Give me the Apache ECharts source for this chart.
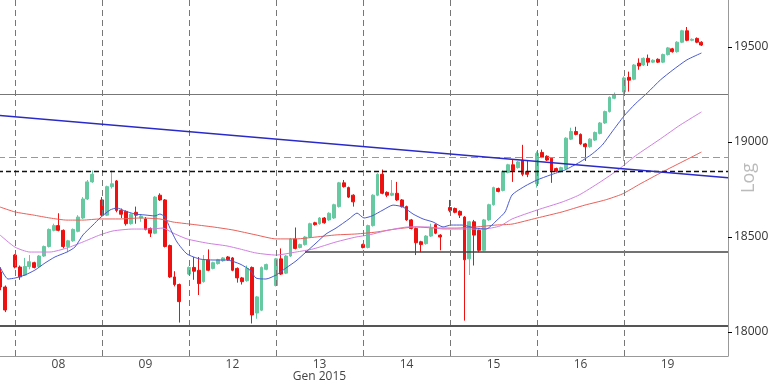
<!DOCTYPE html>
<html><head><meta charset="utf-8">
<script src="https://cdn.jsdelivr.net/npm/echarts@6/dist/echarts.min.js"></script>
<style>html,body{margin:0;padding:0;background:#fff}#c{width:768px;height:384px}</style>
</head><body><div id="c"></div>
<script>
// ---- data ----
const dayLabels = ['08','09','12','13','14','15','16','19'];
const monthLabel = 'Gen 2015';
const dayStartIdx = [3,21,39,57,75,93,111,129];
const dayLabelIdx = [12,30,48,66,84,102,120,138];
const yTickValues = [18000,18500,19000,19500];
// candles: [open, close, low, high]; '-' = no bar
const candles = [
 [18316,18237,18220,18340],[18237,18116,18105,18245],'-',
 [18405,18342,18335,18410],[18342,18290,18275,18350],[18300,18345,18295,18390],[18345,18370,18330,18405],[18365,18340,18335,18370],[18345,18400,18340,18405],[18400,18450,18395,18455],[18450,18540,18445,18545],[18535,18560,18530,18570],[18560,18535,18530,18625],[18535,18450,18440,18540],[18450,18480,18420,18485],[18480,18540,18475,18545],[18530,18605,18525,18615],[18600,18700,18595,18710],[18700,18790,18695,18800],[18790,18830,18785,18850],'-',
 [18695,18615,18610,18710],[18615,18765,18610,18770],[18765,18780,18755,18850],[18795,18640,18630,18800],[18640,18620,18600,18650],[18635,18570,18560,18640],[18570,18620,18565,18625],[18630,18615,18570,18660],[18600,18610,18580,18620],[18595,18540,18535,18605],[18545,18520,18500,18550],[18520,18710,18515,18715],[18720,18695,18690,18730],[18695,18450,18445,18700],[18455,18290,18285,18460],[18290,18250,18240,18320],[18250,18160,18050,18255],'-',
 [18305,18340,18300,18345],[18340,18320,18275,18395],[18325,18255,18195,18395],[18265,18380,18260,18405],[18380,18325,18320,18435],[18335,18365,18330,18370],[18360,18380,18355,18385],[18375,18390,18370,18395],[18395,18380,18375,18400],[18390,18325,18320,18395],[18335,18285,18260,18340],[18285,18265,18250,18290],[18270,18335,18265,18350],[18340,18090,18045,18345],[18100,18185,18070,18190],[18115,18340,18110,18345],[18330,18355,18325,18360],'-',
 [18245,18385,18240,18390],[18385,18305,18300,18440],[18310,18400,18305,18405],[18400,18490,18395,18495],[18490,18440,18435,18550],[18445,18460,18440,18465],[18460,18500,18455,18505],[18500,18570,18495,18575],[18575,18565,18560,18580],[18570,18600,18565,18605],[18600,18575,18570,18605],[18590,18625,18585,18630],[18600,18670,18595,18675],[18660,18785,18655,18790],[18785,18765,18760,18800],[18760,18710,18705,18765],[18720,18685,18660,18725],'-',
 [18460,18445,18440,18465],[18445,18560,18440,18565],[18560,18720,18555,18725],[18720,18830,18715,18835],[18830,18730,18725,18855],[18735,18720,18710,18740],[18720,18730,18715,18800],[18730,18695,18690,18790],[18695,18660,18655,18700],[18660,18590,18585,18665],[18590,18545,18540,18595],[18545,18470,18405,18550],[18475,18460,18420,18480],[18465,18505,18460,18510],[18505,18545,18500,18570],[18565,18520,18515,18570],[18510,18500,18430,18515],'-',
 [18655,18640,18630,18695],[18650,18630,18625,18655],[18635,18615,18600,18640],[18605,18380,18060,18610],[18385,18580,18300,18585],[18580,18510,18350,18590],[18535,18430,18420,18540],[18430,18590,18425,18595],[18590,18670,18585,18675],[18670,18760,18665,18765],[18755,18740,18735,18760],[18745,18845,18740,18850],[18840,18880,18835,18885],[18880,18850,18790,18910],[18865,18895,18860,18900],[18905,18830,18820,18985],[18845,18830,18815,18905],'-',
 [18780,18940,18760,18950],[18945,18920,18915,18960],[18925,18905,18900,18930],[18915,18850,18785,18920],[18860,18845,18840,18865],[18845,18865,18840,18870],[18860,19020,18855,19025],[19015,19055,19010,19075],[19055,19040,19035,19080],[19040,18990,18985,19045],[18990,18975,18900,18995],[18975,19015,18970,19020],[19010,19050,19005,19055],[19045,19100,19040,19105],[19100,19160,19095,19165],[19160,19235,19155,19240],[19230,19250,19225,19260],'-',
 [19263,19337,18900,19345],[19340,19325,19265,19370],[19330,19405,19325,19410],[19415,19400,19380,19440],[19405,19440,19400,19445],[19440,19420,19400,19460],[19420,19430,19415,19435],[19435,19420,19415,19440],[19420,19460,19415,19465],[19460,19495,19455,19500],[19490,19475,19470,19495],[19475,19525,19470,19530],[19525,19585,19520,19590],[19585,19535,19530,19605],[19535,19540,19530,19545],[19545,19525,19520,19550],[19525,19510,19505,19530],
 '-','-','-','-','-'
];
// moving averages: [candle index, value]
const maFast = [[-0.1,18342],[1.55,18279],[3,18284],[5.07,18300],[7.14,18326],[9.21,18363],[11.28,18395],[13.76,18421],[15.41,18447],[17.07,18511],[19.14,18563],[20.59,18600],[22.66,18642],[24.1,18653],[25.76,18637],[27.83,18621],[29.9,18616],[31.97,18611],[33,18621],[34.04,18605],[35.07,18547],[36.52,18474],[38.59,18411],[41.28,18384],[43.97,18379],[46.87,18379],[49.55,18358],[51.62,18326],[52.87,18284],[54.93,18279],[57,18300],[59.07,18337],[61.14,18374],[63.21,18421],[65.28,18468],[67.35,18516],[69.42,18547],[72.11,18595],[73.76,18626],[75.21,18600],[76.87,18611],[79.14,18642],[81.21,18668],[83.28,18658],[85.35,18621],[87.42,18595],[89.49,18579],[91.56,18553],[93.21,18563],[95.49,18563],[98.18,18547],[100.46,18542],[102.73,18589],[104.39,18632],[105.83,18721],[108.52,18768],[111,18800],[113.7,18826],[116.8,18853],[119.9,18895],[122.4,18937],[124.5,18984],[126.5,19053],[129,19137],[131.3,19200],[133.8,19258],[136.5,19326],[139.1,19379],[142,19432],[145,19468]];
const maMid = [[-0.1,18511],[3,18447],[6.1,18421],[10.24,18421],[13.76,18442],[17.07,18474],[20.59,18511],[23.28,18532],[27.42,18542],[30.93,18542],[33.62,18547],[35.69,18521],[38.59,18490],[42.73,18468],[46.87,18453],[49.55,18437],[52.87,18416],[57,18405],[61.14,18421],[64.66,18437],[69.42,18474],[73.56,18500],[76.25,18511],[80.38,18537],[84.52,18553],[88.66,18553],[91.56,18542],[95.7,18542],[99.83,18542],[103.35,18558],[105.83,18595],[111,18642],[116.18,18684],[119.7,18721],[124.04,18789],[128,18858],[131.3,18926],[136.5,19016],[140.6,19089],[145,19158]];
const maSlow = [[-0.1,18658],[3,18632],[6.72,18616],[10.24,18600],[13.76,18589],[17.07,18589],[20.59,18595],[24.73,18595],[28.86,18600],[33,18595],[35.69,18579],[39.21,18568],[43.97,18553],[48.1,18537],[52.87,18511],[57,18490],[61.14,18490],[65.28,18500],[69.42,18511],[73.56,18516],[77.7,18526],[81.83,18542],[85.97,18553],[90.1,18547],[94.25,18547],[98.39,18553],[102.5,18563],[105.83,18568],[111,18600],[116.18,18632],[120.9,18668],[125.1,18695],[128.6,18726],[132.3,18779],[136.9,18842],[141,18895],[145,18947]];
const trendLine = [[-0.5,19140],[150.5,18812]];
const levelGraySolid = 19250;
const levelGrayDashed = 18921;
const levelBlackDashed = 18847;
const levelSupport = [[63,18421],[150.5,18421]];
const levelBottom = 18032;

// ---- chart ----
const cats = candles.map((_, i) => String(i));
const chart = echarts.init(document.getElementById('c'), null, {renderer:'canvas'});
const FONT = 'Open Sans';
const vLines = dayStartIdx.map(i => ({xAxis: i, lineStyle:{color:'#777', type:[6,4], width:1}}));
chart.setOption({
  animation: false,
  backgroundColor: '#fff',
  grid: {left: -2, right: 40, top: 0, bottom: 28, containLabel: false, outerBoundsMode: 'none'},
  xAxis: [{
    type: 'category', data: cats, boundaryGap: true,
    axisLine: {show: true, onZero: false, lineStyle: {color: '#999', width: 1}},
    axisTick: {show: false},
    splitLine: {show: false},
    axisLabel: {
      interval: (i) => dayLabelIdx.indexOf(i) >= 0,
      formatter: (v, i) => {
        const k = dayLabelIdx.indexOf(Number(v));
        if (k < 0) return '';
        return dayLabels[k] === '13' ? dayLabels[k] + '\n' + monthLabel : dayLabels[k];
      },
      color: '#444', fontSize: 12, fontFamily: FONT, margin: 3, lineHeight: 12
    }
  }, {
    type: 'value', min: -0.5, max: 150.5, show: false, position: 'bottom',
    axisLine: {show: false, onZero: false}
  }],
  yAxis: {
    type: 'value', position: 'right', min: 17874, max: 19747, scale: true,
    axisLine: {show: true, onZero: false, lineStyle: {color: '#999', width: 1}},
    axisTick: {show: true, length: 4, lineStyle: {color: '#000'}, customValues: yTickValues},
    axisLabel: {customValues: yTickValues, formatter: (v) => String(v), color: '#333', fontSize: 12, fontFamily: FONT, margin: 6},
    splitLine: {show: false},
    name: 'Log', nameLocation: 'middle', nameRotate: 90, nameGap: 12, nameMoveOverlap: false,
    nameTextStyle: {color: '#bbb', fontSize: 18, fontFamily: FONT}
  },
  series: [
    {
      type: 'candlestick', xAxisIndex: 0, data: candles, barWidth: '70%', z: 2,
      itemStyle: {color: '#66c9a1', color0: '#ee1111', borderColor: '#66c9a1', borderColor0: '#ee1111', borderWidth: 1}
    },
    {type: 'line', xAxisIndex: 1, data: maSlow, showSymbol: false, symbol: 'none', smooth: 0.2, z: 3,
     lineStyle: {color: '#e8605a', width: 1}},
    {type: 'line', xAxisIndex: 1, data: maMid, showSymbol: false, symbol: 'none', smooth: 0.2, z: 3,
     lineStyle: {color: '#d07fe0', width: 1}},
    {type: 'line', xAxisIndex: 1, data: maFast, showSymbol: false, symbol: 'none', smooth: 0.2, z: 3,
     lineStyle: {color: '#4a5ad0', width: 1}},
    {type: 'line', xAxisIndex: 1, data: levelSupport, showSymbol: false, symbol: 'none', z: 4,
     lineStyle: {color: '#444', width: 1.5}},
    {type: 'line', xAxisIndex: 1, data: trendLine, showSymbol: false, symbol: 'none', z: 5,
     lineStyle: {color: '#2a2ac8', width: 1.5},
     markLine: {
       silent: true, symbol: 'none', label: {show: false},
       data: vLines.concat([
         {yAxis: levelGraySolid, lineStyle: {color: '#777', type: 'solid', width: 1}},
         {yAxis: levelGrayDashed, lineStyle: {color: '#999', type: [7,4], width: 1.2}},
         {yAxis: levelBlackDashed, lineStyle: {color: '#111', type: [5,3], width: 1.3}},
         {yAxis: levelBottom, lineStyle: {color: '#555', type: 'solid', width: 2}}
       ])
     }}
  ]
});
</script>
</body></html>
